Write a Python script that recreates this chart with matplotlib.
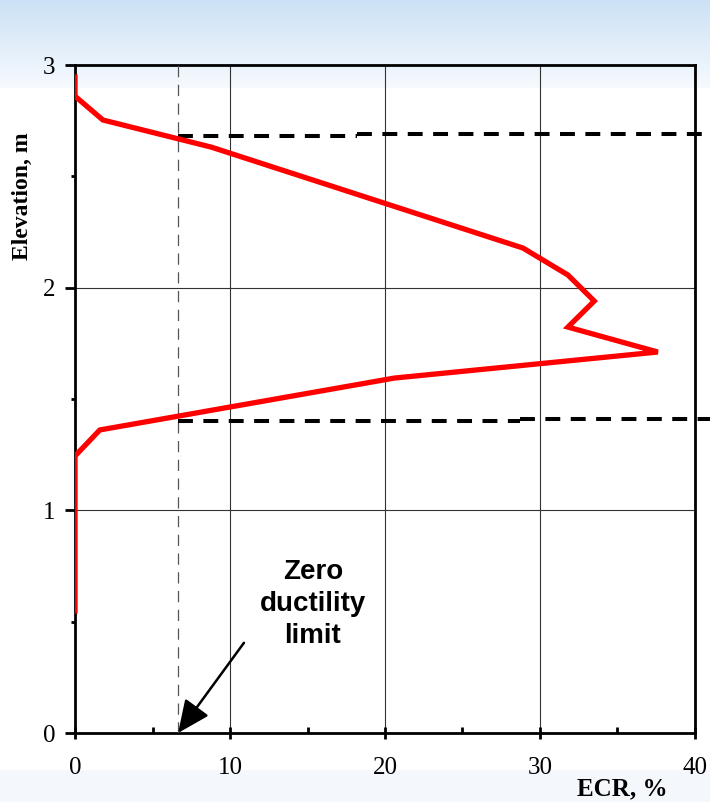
import matplotlib.pyplot as plt
import numpy as np

# ECR profile along the rod (ECR %, elevation m)
ecr = [0.0, 0.0, 1.8, 8.8, 28.9, 31.8, 33.5, 31.8, 37.6, 20.6, 1.6, 0.0, 0.0]
elevation = [2.946, 2.860, 2.753, 2.631, 2.178, 2.057, 1.940, 1.823, 1.711, 1.594, 1.361, 1.244, 0.548]

# zero ductility limit and the two elevation bounds (dashed, two pieces each)
zdl_ecr = 6.65
upper_x = [[6.65, 18.2], [18.2, 41.0]]
upper_y = [[2.681, 2.681], [2.692, 2.692]]
lower_x = [[6.65, 28.7], [28.7, 41.0]]
lower_y = [[1.401, 1.401], [1.410, 1.410]]

x_ticks = [0, 10, 20, 30, 40]
y_ticks = [0, 1, 2, 3]

fig = plt.figure(figsize=(7.1, 8.02), dpi=100, facecolor='white')

# slide background: blue fade at the top, pale strip at the bottom
bg = fig.add_axes([0, 0, 1, 1], zorder=-10)
rows = np.ones((802, 1, 3))
top = np.linspace(0, 1, 88)[:, None]
c0 = np.array([204, 225, 245]) / 255
c1 = np.array([246, 250, 254]) / 255
rows[:88, 0, :] = c0 + (c1 - c0) * top
rows[770:, 0, :] = np.array([244, 248, 252]) / 255
bg.imshow(rows, aspect='auto', extent=[0, 1, 0, 1], interpolation='nearest')
bg.axis('off')

ax = fig.add_axes([75 / 710, 1 - 733 / 802, 620 / 710, 668 / 802])
ax.set_facecolor('none')

ax.plot(ecr, elevation, color='#ff0000', lw=3.8, solid_joinstyle='miter', zorder=5)
ax.axvline(zdl_ecr, color='#555555', lw=0.9, dashes=(9, 6), zorder=3)
for xs, ys in zip(upper_x + lower_x, upper_y + lower_y):
    ax.plot(xs, ys, color='black', lw=2.9, dashes=(3.7, 2.6), solid_capstyle='butt',
            dash_capstyle='butt', clip_on=False, zorder=4)

ax.set_xlim(0, 40)
ax.set_ylim(0, 3)
ax.set_xticks(x_ticks)
ax.set_yticks(y_ticks)
ax.set_xticks([5, 15, 25, 35], minor=True)
ax.set_yticks([0.5, 1.5, 2.5], minor=True)
ax.grid(True, which='major', color='#333333', lw=0.8)

for s in ax.spines.values():
    s.set_linewidth(2.0)
    s.set_color('black')

tick_font = {'family': 'Liberation Serif', 'size': 18}
ax.set_xticklabels([str(t) for t in x_ticks], fontdict=tick_font)
ax.set_yticklabels([str(t) for t in y_ticks], fontdict=tick_font)
ax.tick_params(axis='x', which='major', direction='inout', length=9, width=2, pad=13)
ax.tick_params(axis='x', which='minor', direction='in', length=4, width=2)
ax.tick_params(axis='y', which='major', direction='out', length=7, width=2, pad=7)
ax.tick_params(axis='y', which='minor', direction='out', length=3, width=2)

fig.text(668 / 710, 1 - 789 / 802, 'ECR, %', ha='right', va='center',
         family='Liberation Serif', weight='bold', size=18)
fig.text(22 / 710, 1 - 196 / 802, 'Elevation, m', ha='center', va='center', rotation=90,
         family='Liberation Serif', weight='bold', size=17)

ax.text(15.35, 0.58, 'Zero\nductility\nlimit', ha='center', va='center',
        family='Liberation Sans', weight='bold', size=20, linespacing=1.3)
ax.annotate('', xy=(zdl_ecr, 0.0), xytext=(10.9, 0.405),
            arrowprops=dict(arrowstyle='-|>,head_length=1.0,head_width=0.45',
                            mutation_scale=20, color='black', lw=1.8,
                            shrinkA=0, shrinkB=0))

fig.savefig('out.png', dpi=100, facecolor=fig.get_facecolor())
